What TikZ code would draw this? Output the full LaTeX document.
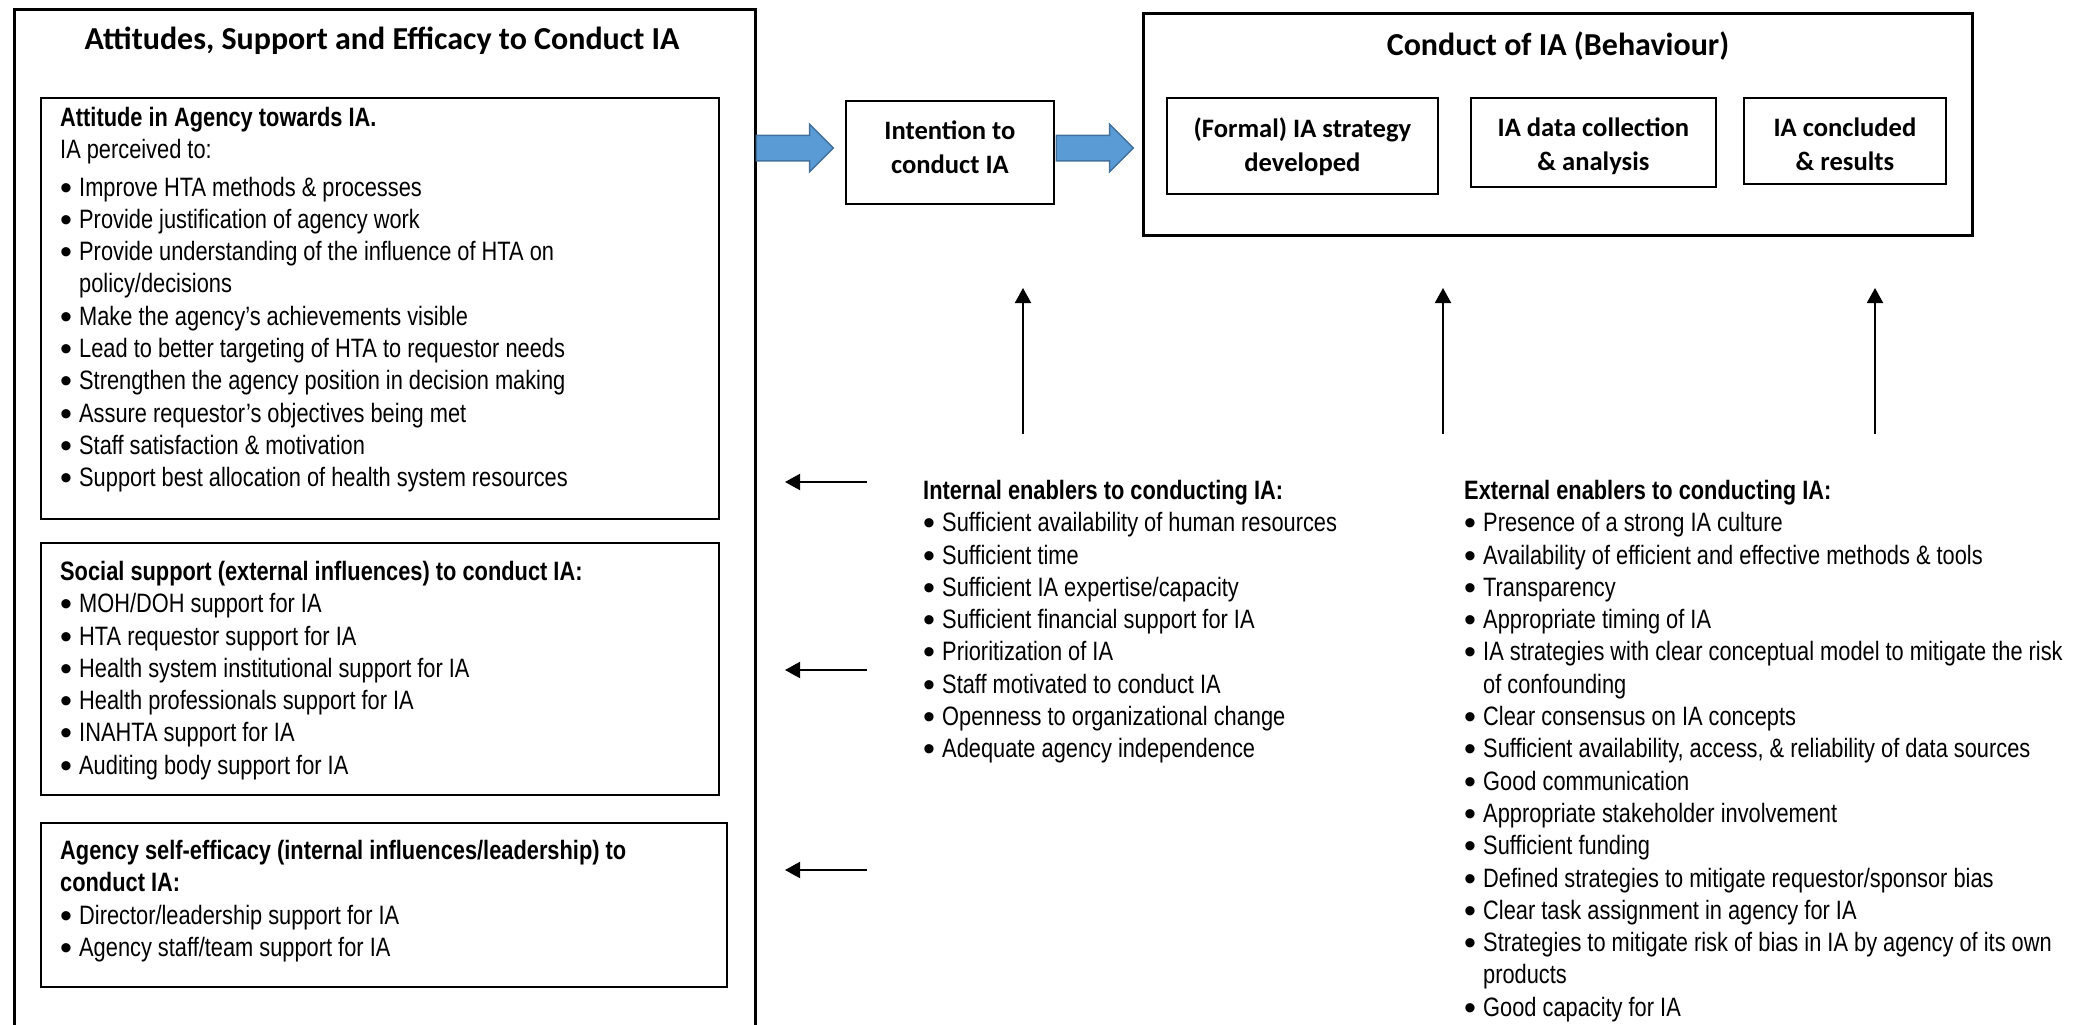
\documentclass[tikz,border=0pt]{standalone}
\usepackage{fontspec}
\usetikzlibrary{arrows.meta,shapes.arrows}
\newfontfamily\narrowfont{Liberation Sans}[FakeStretch=0.82]
\newfontfamily\bulfont{Liberation Sans}
\newfontfamily\calfont{Carlito}
\newcommand{\bul}{\makebox[19pt][l]{\raisebox{-3pt}{\bulfont\fontsize{34pt}{34pt}\selectfont\textbullet}}}
\newcommand{\cont}{\hspace*{19pt}}
\definecolor{arrow-blue}{HTML}{5B9BD5}
\definecolor{arrow-edge}{HTML}{41719C}
\tikzset{
    outer-box/.style = {draw, line width=3pt, rectangle, inner sep=0pt, anchor=north west},
    plain-box/.style = {draw, line width=1.8pt, rectangle, inner sep=0pt, anchor=north west},
    list-text/.style = {anchor=north west, inner sep=0pt, align=left, font=\narrowfont\fontsize{26.6pt}{32.3pt}\selectfont, execute at begin node={\rule{0pt}{24pt}}},
    head-text/.style = {anchor=base, inner sep=0pt, font=\calfont\bfseries\fontsize{32pt}{38pt}\selectfont},
    box-text/.style = {anchor=north, inner sep=0pt, align=center, font=\calfont\bfseries\fontsize{26.6pt}{34pt}\selectfont, execute at begin node={\rule{0pt}{24pt}}},
    block-arrow/.style = {single arrow, draw=arrow-edge, fill=arrow-blue, line width=1.5pt, inner xsep=0pt, inner ysep=12pt, minimum height=77pt, single arrow head extend=11pt, single arrow tip angle=90},
    thin-arrow/.style = {-{Triangle[length=15pt,width=16pt]}, line width=2pt},
}

\begin{document}
\begin{tikzpicture}[x=1pt,y=-1pt]
\useasboundingbox (0,0) rectangle (2089,1025);

\node[outer-box, minimum width=741pt, minimum height=1040pt] (outer) at (13,8) {};
\node[head-text] (outer-title) at (382,50) {Attitudes, Support and Efficacy to Conduct IA};

\node[plain-box, minimum width=678pt, minimum height=421pt] (att-box) at (40,97) {};
\node[list-text] (att-list) at (60,107) {\textbf{Attitude in Agency towards IA.}\\
    IA perceived to:\\[5pt]
    \bul Improve HTA methods \& processes\\
    \bul Provide justification of agency work\\
    \bul Provide understanding of the influence of HTA on\\
    \cont policy/decisions\\
    \bul Make the agency’s achievements visible\\
    \bul Lead to better targeting of HTA to requestor needs\\
    \bul Strengthen the agency position in decision making\\
    \bul Assure requestor’s objectives being met\\
    \bul Staff satisfaction \& motivation\\
    \bul Support best allocation of health system resources};

\node[plain-box, minimum width=678pt, minimum height=252pt] (soc-box) at (40,542) {};
\node[list-text] (soc-list) at (60,561) {\textbf{Social support (external influences) to conduct IA:}\\
    \bul MOH/DOH support for IA\\
    \bul HTA requestor support for IA\\
    \bul Health system institutional support for IA\\
    \bul Health professionals support for IA\\
    \bul INAHTA support for IA\\
    \bul Auditing body support for IA};

\node[plain-box, minimum width=686pt, minimum height=164pt] (eff-box) at (40,822) {};
\node[list-text] (eff-list) at (60,840) {\textbf{Agency self-efficacy (internal influences/leadership) to}\\
    \textbf{conduct IA:}\\
    \bul Director/leadership support for IA\\
    \bul Agency staff/team support for IA};

\node[block-arrow] (arrow-a) at (788.5,148) {};
\node[plain-box, minimum width=208pt, minimum height=103pt] (intent) at (845,100) {};
\node[box-text] (intent-text) at (intent.center |- 0,121) {Intention to\\conduct IA};
\node[block-arrow] (arrow-b) at (1088.5,148) {};

\node[outer-box, minimum width=829pt, minimum height=222pt] (conduct) at (1142,12) {};
\node[head-text] (conduct-title) at (conduct.center |- 0,56) {Conduct of IA (Behaviour)};
\node[plain-box, minimum width=271pt, minimum height=96pt] (strategy) at (1166,97) {};
\node[plain-box, minimum width=245pt, minimum height=89pt] (datacol) at (1470,97) {};
\node[plain-box, minimum width=202pt, minimum height=86pt] (concluded) at (1743,97) {};
\node[box-text] (strategy-text) at (strategy.center |- 0,118) {(Formal) IA strategy\\developed};
\node[box-text] (datacol-text) at (datacol.center |- 0,118) {IA data collection\\\& analysis};
\node[box-text] (concluded-text) at (concluded.center |- 0,118) {IA concluded\\\& results};

\node[list-text] (int-list) at (923,480) {\textbf{Internal enablers to conducting IA:}\\
    \bul Sufficient availability of human resources\\
    \bul Sufficient time\\
    \bul Sufficient IA expertise/capacity\\
    \bul Sufficient financial support for IA\\
    \bul Prioritization of IA\\
    \bul Staff motivated to conduct IA\\
    \bul Openness to organizational change\\
    \bul Adequate agency independence};

\node[list-text] (ext-list) at (1464,480) {\textbf{External enablers to conducting IA:}\\
    \bul Presence of a strong IA culture\\
    \bul Availability of efficient and effective methods \& tools\\
    \bul Transparency\\
    \bul Appropriate timing of IA\\
    \bul IA strategies with clear conceptual model to mitigate the risk\\
    \cont of confounding\\
    \bul Clear consensus on IA concepts\\
    \bul Sufficient availability, access, \& reliability of data sources\\
    \bul Good communication\\
    \bul Appropriate stakeholder involvement\\
    \bul Sufficient funding\\
    \bul Defined strategies to mitigate requestor/sponsor bias\\
    \bul Clear task assignment in agency for IA\\
    \bul Strategies to mitigate risk of bias in IA by agency of its own\\
    \cont products\\
    \bul Good capacity for IA};

\foreach \x [count=\i] in {1023,1443,1875} {
    \coordinate (up-\i-from) at (\x,434);
    \coordinate (up-\i-to) at (\x,288);
    \draw[thin-arrow] (up-\i-from) -- (up-\i-to);
}
\foreach \y [count=\i] in {482,670,870} {
    \coordinate (left-\i-from) at (867,\y);
    \coordinate (left-\i-to) at (785,\y);
    \draw[thin-arrow] (left-\i-from) -- (left-\i-to);
}
\end{tikzpicture}
\end{document}
